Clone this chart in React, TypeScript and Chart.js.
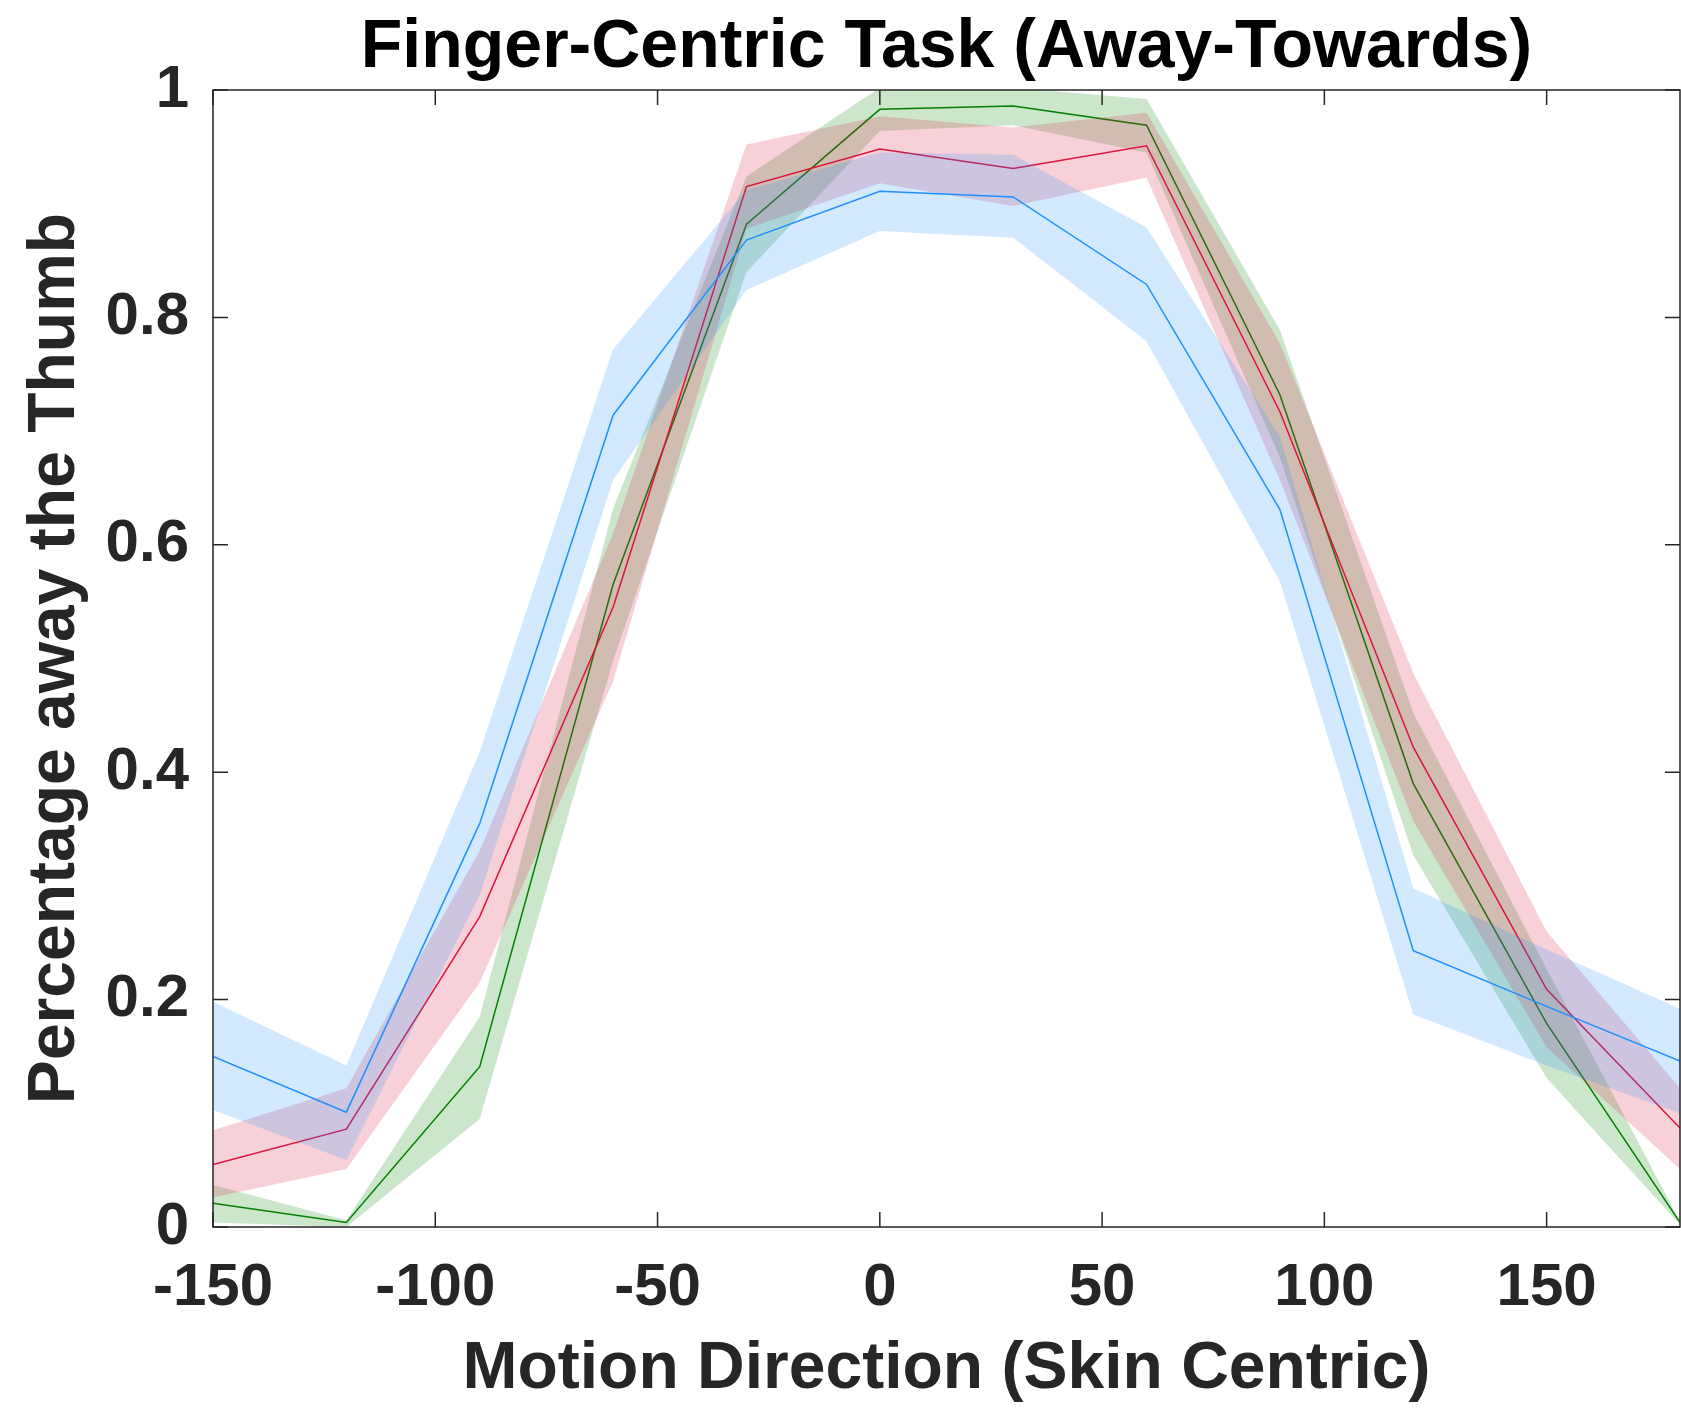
import React, { useEffect, useRef } from 'react';
import { Chart, registerables } from 'chart.js';

Chart.register(...registerables);

// ---- Data (motion direction in degrees) ----
const angles = [-150, -120, -90, -60, -30, 0, 30, 60, 90, 120, 150, 180];

const blueMean = [0.150, 0.101, 0.355, 0.714, 0.868, 0.911, 0.906, 0.829, 0.631, 0.243, 0.194, 0.146];
const blueUpper = [0.198, 0.142, 0.418, 0.772, 0.912, 0.945, 0.943, 0.879, 0.695, 0.298, 0.244, 0.192];
const blueLower = [0.103, 0.059, 0.292, 0.657, 0.824, 0.876, 0.870, 0.779, 0.568, 0.187, 0.142, 0.100];

const redMean = [0.055, 0.086, 0.273, 0.545, 0.915, 0.948, 0.931, 0.951, 0.717, 0.422, 0.209, 0.087];
const redUpper = [0.085, 0.122, 0.331, 0.610, 0.952, 0.977, 0.967, 0.980, 0.777, 0.487, 0.260, 0.122];
const redLower = [0.026, 0.051, 0.215, 0.480, 0.878, 0.918, 0.898, 0.923, 0.657, 0.357, 0.158, 0.051];

const greenMean = [0.021, 0.004, 0.141, 0.565, 0.882, 0.983, 0.986, 0.969, 0.732, 0.390, 0.179, 0.004];
const greenUpper = [0.037, 0.006, 0.185, 0.632, 0.924, 1.002, 1.002, 0.992, 0.789, 0.452, 0.227, 0.005];
const greenLower = [0.004, 0.0, 0.095, 0.498, 0.840, 0.964, 0.969, 0.945, 0.677, 0.327, 0.131, 0.002];

const xTickValues = [-150, -100, -50, 0, 50, 100, 150];
const yTickValues = [0, 0.2, 0.4, 0.6, 0.8, 1];

const chartTitle = 'Finger-Centric Task (Away-Towards)';
const xTitle = 'Motion Direction (Skin Centric)';
const yTitle = 'Percentage away the Thumb';

const FONT = '"Liberation Sans", Arial, Helvetica, sans-serif';
const AXIS_COLOR = '#262626';

const pts = (vals: number[]) => angles.map((x, i) => ({ x, y: vals[i] }));

const lineDs = (vals: number[], color: string) => ({
  data: pts(vals),
  borderColor: color,
  borderWidth: 1.5,
  pointRadius: 0,
  fill: false,
  tension: 0,
});
const boundDs = (vals: number[], fill: any, bg: string) => ({
  data: pts(vals),
  borderColor: 'rgba(0,0,0,0)',
  borderWidth: 0,
  pointRadius: 0,
  fill,
  backgroundColor: bg,
  tension: 0,
  clip: false as any,
});

const boxPlugin = {
  id: 'matlabBox',
  afterDatasetsDraw(chart: any) {
    const { ctx, chartArea } = chart;
    const { left, right, top, bottom } = chartArea;
    const xs = chart.scales.x;
    const ys = chart.scales.y;
    ctx.save();
    ctx.strokeStyle = AXIS_COLOR;
    ctx.lineWidth = 1.5;
    ctx.beginPath();
    ctx.rect(left, top, right - left, bottom - top);
    ctx.stroke();
    const tl = 15;
    ctx.beginPath();
    xTickValues.forEach((v) => {
      const px = xs.getPixelForValue(v);
      ctx.moveTo(px, bottom);
      ctx.lineTo(px, bottom - tl);
      ctx.moveTo(px, top);
      ctx.lineTo(px, top + tl);
    });
    yTickValues.forEach((v) => {
      const py = ys.getPixelForValue(v);
      ctx.moveTo(left, py);
      ctx.lineTo(left + tl, py);
      ctx.moveTo(right, py);
      ctx.lineTo(right - tl, py);
    });
    ctx.stroke();
    ctx.restore();
  },
  afterDraw(chart: any) {
    const { ctx, chartArea } = chart;
    ctx.save();
    ctx.font = `bold 68px ${FONT}`;
    ctx.fillStyle = '#000000';
    ctx.textAlign = 'center';
    ctx.textBaseline = 'alphabetic';
    ctx.fillText(chartTitle, (chartArea.left + chartArea.right) / 2, 67);
    ctx.restore();
  },
};

export default function App() {
  const canvasRef = useRef<HTMLCanvasElement | null>(null);

  useEffect(() => {
    if (!canvasRef.current) return;
    const chart = new Chart(canvasRef.current, {
      type: 'line',
      data: {
        datasets: [
          lineDs(blueMean, '#1e90ff'),
          boundDs(blueLower, false, 'rgba(0,0,0,0)'),
          boundDs(blueUpper, '-1', 'rgba(30,144,255,0.2)'),
          lineDs(redMean, '#dc143c'),
          boundDs(redLower, false, 'rgba(0,0,0,0)'),
          boundDs(redUpper, '-1', 'rgba(220,20,60,0.2)'),
          lineDs(greenMean, '#008000'),
          boundDs(greenLower, false, 'rgba(0,0,0,0)'),
          boundDs(greenUpper, '-1', 'rgba(0,128,0,0.2)'),
        ] as any,
      },
      options: {
        animation: false,
        responsive: true,
        maintainAspectRatio: false,
        events: [],
        layout: { padding: { top: 90, right: 1, left: 0, bottom: 0 } },
        plugins: {
          legend: { display: false },
          tooltip: { enabled: false },
          title: { display: false },
        },
        scales: {
          x: {
            type: 'linear',
            min: -150,
            max: 180,
            grid: { display: false, drawTicks: false },
            border: { display: false },
            afterBuildTicks: (s: any) => {
              s.ticks = xTickValues.map((v) => ({ value: v }));
            },
            afterFit: (s: any) => {
              s.height = 182;
            },
            ticks: {
              autoSkip: false,
              maxRotation: 0,
              padding: 25,
              color: AXIS_COLOR,
              font: { family: FONT, size: 60, weight: 'bold' },
              callback: (v: any) => String(v),
            },
            title: {
              display: true,
              text: xTitle,
              color: AXIS_COLOR,
              font: { family: FONT, size: 66, weight: 'bold' },
              padding: { top: 0, bottom: 0 },
            },
          },
          y: {
            type: 'linear',
            min: 0,
            max: 1,
            grid: { display: false, drawTicks: false },
            border: { display: false },
            afterBuildTicks: (s: any) => {
              s.ticks = yTickValues.map((v) => ({ value: v }));
            },
            afterFit: (s: any) => {
              s.width = 213;
            },
            ticks: {
              padding: 24,
              color: AXIS_COLOR,
              font: { family: FONT, size: 60, weight: 'bold' },
              callback: (v: any) => String(Math.round(v * 10) / 10),
            },
            title: {
              display: true,
              text: yTitle,
              color: AXIS_COLOR,
              font: { family: FONT, size: 66, weight: 'bold' },
              padding: { top: 16, bottom: 0 },
            },
          },
        },
      } as any,
      plugins: [boxPlugin],
    });
    return () => chart.destroy();
  }, []);

  return (
    <div
      style={{
        position: 'fixed',
        left: 0,
        top: 0,
        width: 1681,
        height: 1409,
        background: '#ffffff',
      }}
    >
      <canvas ref={canvasRef} />
    </div>
  );
}
